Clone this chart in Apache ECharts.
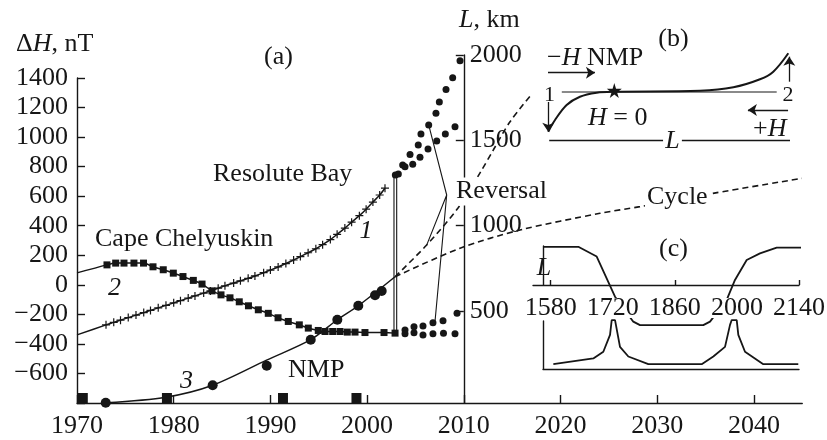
<!DOCTYPE html>
<html>
<head>
<meta charset="utf-8">
<script src="https://cdn.jsdelivr.net/npm/echarts@6.0.0/dist/echarts.min.js"></script>
<style>
html,body{margin:0;padding:0;background:#fff;}
#chart{width:827px;height:440px;}
</style>
</head>
<body>
<div id="chart"></div>
<script>
// ---------------- data ----------------
// main x axis (years)
const yearMin = 1970, yearMax = 2045, yearStep = 10;
// left axis: ΔH, nT
const dhMin = -800, dhMax = 1400, dhStep = 200;
// right axis: L, km
const lMin = -40, lMax = 2000;
const lTicks = [500, 1000, 1500, 2000];

// curve 1: Resolute Bay, ΔH (nT)
const resoluteStart = [1970, -339];
const resoluteCrosses = [
  [1973.0,-271],[1973.8,-254],[1974.5,-239],[1975.3,-222],[1976.1,-205],[1976.9,-188],
  [1977.6,-173],[1978.4,-156],[1979.2,-139],[1980.0,-122],[1980.7,-107],[1981.5,-90],
  [1982.2,-75],[1983.1,-56],[1983.8,-41],[1984.6,-23],[1985.3,-7],[1986.2,12],
  [1986.9,27],[1987.7,44],[1988.4,60],[1989.3,82],[1990.0,100],[1990.8,121],
  [1991.6,144],[1992.4,168],[1993.1,191],[1993.9,217],[1994.7,244],[1995.4,272],
  [1996.2,306],[1996.9,342],[1997.7,384],[1998.4,424],[1999.2,468],[1999.9,512],
  [2000.6,560],[2001.3,608],[2001.85,654]
];
// curve 2: Cape Chelyuskin, ΔH (nT)
const chelyuskinStart = [1970, 81];
const chelyuskinSquares = [
  [1973.1,135],[1974.0,147],[1974.86,147],[1975.89,147],[1976.88,147],[1977.86,122],
  [1978.92,102],[1979.96,79],[1980.96,56],[1982.03,30],[1982.93,5],[1983.96,-41],
  [1984.89,-68],[1985.82,-88],[1986.78,-115],[1987.73,-142],[1988.75,-169],[1989.78,-193],
  [1990.79,-223],[1991.85,-248],[1992.99,-271],[1993.92,-293],[1994.95,-309],[1995.65,-316],
  [1996.44,-316],[1997.2,-316],[1997.95,-320],[1998.75,-320],[1999.78,-323],[2001.75,-323],
  [2002.89,-327]
];
// data after 2003 (dots), ΔH (nT)
const upperDotsA = [
  [2002.92,743],[2003.68,811],[2004.44,883],[2005.29,946],[2005.57,1021],[2006.37,1082],
  [2007.12,1161],[2007.47,1237],[2008.16,1323],[2008.85,1402],[2009.61,1517]
];
const upperDotsB = [
  [2003.23,750],[2003.92,799],[2004.72,817],[2005.47,863],[2006.30,919],[2007.20,973],
  [2008.09,1021],[2009.09,1070]
];
const lowerDotsA = [[2003.92,-305],[2004.85,-284],[2005.78,-278],[2006.81,-257],[2007.85,-244],[2009.30,-193]];
const lowerDotsB = [[2003.92,-332],[2004.85,-325],[2005.78,-339],[2006.81,-332],[2007.90,-327],[2009.09,-332]];
// curve 3: NMP distance L (km)
const nmpCircles = [[1972.97,-39],[1984.03,64],[1989.62,178],[1994.17,331],[1996.92,448],[1999.09,530],[2000.82,592],[2001.51,617]];
const nmpFit = [[1972.97,-39],[1979.2,-6],[1984.03,64],[1989.6,211],[1994.17,331],[1996.92,448],[1999.09,530],[2002.89,700]];
const forecastSteep = [[2002.89,700],[2006.16,886],[2009.40,1103],[2011.68,1309],[2013.05,1443],[2014.78,1609],[2017.02,1770]];
const forecastCycle = [[2002.89,700],[2009.61,867],[2015.81,974],[2024.08,1072],[2028.22,1111],[2035.77,1189],[2044.97,1277]];
// black squares on the time axis
const axisSquareYears = [1970.6, 1979.3, 1991.3, 1998.9];
// reversal jump (double vertical line) and pointer lines, ΔH units
const jumpYears = [2002.78, 2003.06];
const jumpRange = [723, -328];
const reversalHub = [2008.23, 608];
const reversalTargets = [[2006.37,1082],[2006.16,269],[2007.02,-250]];

// inset (b): schematic, arbitrary units
const schemeCurve = [[0.1,-39.7],[2.9,-28],[7.7,-13],[13.2,-4.7],[20.1,-0.7],[27,0.3],[62.8,1.3],[76.6,4.7],[87.6,12.7],[93.1,20.3],[99.3,38.7]];
const schemeZero = [[5.7,0],[94.5,0]];
const schemeStar = [[27.4,1.5]];
const schemeArrows = [[[0,19.3],[19.4,19.3]],[[0.1,-10],[0.1,-39.7]],[[99.7,10.3],[99.7,35.3]],[[99.2,-18],[82.6,-18]]];
const schemeBracket = [[[0.5,-48],[47.6,-48]],[[55.2,-48],[100,-48]],[[0.5,-44],[0.5,-52]],[[100,-44],[100,-52]]];

// inset (c): cycle, years
const cycleMin = 1540, cycleMax = 2140;
const cycleTickYears = [1580, 1860, 2140];
const cycleLabelYears = [1580, 1720, 1860, 2000, 2140];
const cycleUpper = [[1563.2,0.98],[1642.2,0.98],[1683.7,0.73],[1725.0,-0.30],[1766.2,-0.94],[1781.4,-1.03],[1924.1,-1.03],[1939.3,-0.94],[1976.9,-0.38],[1995.6,0.13],[2022.0,0.64],[2052.0,0.81],[2089.7,0.96],[2148,0.96]];
const cycleLower = [[1585.8,0.10],[1676.0,0.22],[1698.6,0.36],[1713.7,0.71],[1717.5,1.02],[1725.0,1.02],[1736.2,0.46],[1755.0,0.26],[1800.1,0.10],[1920.5,0.10],[1946.7,0.26],[1973.1,0.46],[1984.4,0.92],[1988.2,1.02],[1999.5,1.02],[2003.1,0.71],[2018.2,0.36],[2059.5,0.10],[2138.4,0.10]];

// ---------------- styling ----------------
const INK = '#161616';
const FONT = '"Liberation Serif", "Times New Roman", serif';
const F = (s, it) => (it ? 'italic ' : '') + s + 'px ' + FONT;
const CROSS = 'path://M5,0L5,10M0,5L10,5';
const STAR = 'path://M50,0L61,35L98,35L68,57L79,91L50,70L21,91L32,57L2,35L39,35Z';
const axisLineStyle = {color: INK, width: 1.4};
const plainNum = function (v) { return String(v).replace('-', '\u2212'); };
const labelBase = {color: INK, fontFamily: FONT, fontSize: 26, formatter: plainNum};
const noEmph = {disabled: true};

function hiddenAxis(grid, min, max) {
  return {type: 'value', gridIndex: grid, min: min, max: max, show: false, splitLine: {show: false}};
}
function lineS(x, y, data, extra) {
  return Object.assign({
    type: 'line', xAxisIndex: x, yAxisIndex: y, data: data,
    symbol: 'none', lineStyle: {color: INK, width: 1.5, opacity: 1}, itemStyle: {color: INK, opacity: 1},
    emphasis: noEmph, silent: true, animation: false, clip: false, z: 3
  }, extra || {});
}
function dots(x, y, data, size, extra) {
  return Object.assign({
    type: 'scatter', xAxisIndex: x, yAxisIndex: y, data: data, symbol: 'circle', symbolSize: size,
    itemStyle: {color: INK, opacity: 1}, emphasis: noEmph, silent: true, animation: false, clip: false, z: 4
  }, extra || {});
}

const series = [];
// curve 1
series.push(lineS(0, 0, [{value: resoluteStart, symbol: 'none'}].concat(resoluteCrosses), {
  smooth: 0.3, symbol: CROSS, symbolSize: 8, showSymbol: true,
  itemStyle: {color: 'rgba(0,0,0,0)', borderColor: INK, borderWidth: 1.2, opacity: 1}
}));
// curve 2
series.push(lineS(0, 0, [{value: chelyuskinStart, symbol: 'none'}].concat(chelyuskinSquares), {
  smooth: 0.3, symbol: 'rect', symbolSize: 7, showSymbol: true, itemStyle: {color: INK, opacity: 1}
}));
// dots after 2003
series.push(dots(0, 0, upperDotsA, 7));
series.push(dots(0, 0, upperDotsB, 7));
series.push(dots(0, 0, lowerDotsA, 7));
series.push(dots(0, 0, lowerDotsB, 7));
// jump double line
jumpYears.forEach(function (yr) {
  series.push(lineS(0, 0, [[yr, jumpRange[0]], [yr, jumpRange[1]]], {lineStyle: {color: INK, width: 1.1}}));
});
// reversal pointers
const ptr = [];
reversalTargets.forEach(function (t, i) { if (i) ptr.push(reversalHub); ptr.push(t); });
series.push(lineS(0, 0, ptr, {lineStyle: {color: INK, width: 1.1}}));
// squares on axis
series.push(dots(0, 0, axisSquareYears.map(function (y) { return [y, dhMin]; }), 10,
  {symbol: 'rect', symbolOffset: [0, -5]}));
// curve 3 (L)
series.push(lineS(1, 1, nmpFit, {smooth: 0.3}));
series.push(dots(1, 1, nmpCircles, 10));
series.push(lineS(1, 1, forecastSteep, {smooth: 0.3, lineStyle: {color: INK, width: 1.6, type: [6, 4]}}));
series.push(lineS(1, 1, forecastCycle, {smooth: 0.3, lineStyle: {color: INK, width: 1.6, type: [6, 4]}}));

// inset (b)
series.push(lineS(2, 2, schemeCurve, {smooth: 0.35, lineStyle: {color: INK, width: 2}}));
const mlData = schemeArrows.map(function (a) {
  return [{coord: a[0], symbol: 'none'}, {coord: a[1], symbol: 'arrow'}];
}).concat(schemeBracket.map(function (a) {
  return [{coord: a[0], symbol: 'none'}, {coord: a[1], symbol: 'none'}];
}));
series.push(lineS(2, 2, schemeZero, {
  lineStyle: {color: INK, width: 1.2},
  markLine: {
    silent: true, animation: false, symbolSize: 9, label: {show: false}, emphasis: noEmph,
    lineStyle: {color: INK, width: 1.3, type: 'solid', opacity: 1}, itemStyle: {color: INK, opacity: 1}, data: mlData
  }
}));
series.push(dots(2, 2, schemeStar, 15, {symbol: STAR}));

// inset (c)
series.push(lineS(3, 3, cycleUpper, {lineStyle: {color: INK, width: 1.8}, z: 1}));
series.push(lineS(4, 4, cycleLower, {lineStyle: {color: INK, width: 1.8}, z: 1}));

// ---------------- texts ----------------
function txt(x, y, text, opts) {
  opts = opts || {};
  const style = {
    text: text, x: 0, y: 0, fill: INK, font: opts.font || F(26),
    align: opts.align || 'left', textAlign: opts.align || 'left',
    verticalAlign: 'middle', textVerticalAlign: 'middle'
  };
  if (opts.rich) style.rich = opts.rich;
  if (opts.bg) { style.backgroundColor = '#fff'; style.padding = [1, 2]; }
  return {type: 'text', x: x, y: y, z: 100, silent: true, style: style};
}
const rich26 = {n: {font: F(26)}, i: {font: F(26, true)}};
const graphics = [
  txt(16, 44, '{n|Δ}{i|H}{n|, nT}', {rich: rich26}),
  txt(264, 57, '(a)'),
  txt(459, 20, '{i|L}{n|, km}', {rich: rich26}),
  txt(213, 174, 'Resolute Bay'),
  txt(95, 239, 'Cape Chelyuskin'),
  txt(366, 231, '1', {font: F(26, true), align: 'center'}),
  txt(114.5, 288.5, '2', {font: F(26, true), align: 'center'}),
  txt(186.5, 381.5, '3', {font: F(26, true), align: 'center'}),
  txt(288, 370, 'NMP'),
  txt(454, 191.5, 'Reversal', {bg: true}),
  txt(645, 197, 'Cycle', {bg: true}),
  txt(673.5, 39, '(b)', {align: 'center'}),
  txt(547, 58.5, '{n|−}{i|H}{n| NMP}', {rich: rich26}),
  txt(549.5, 95, '1', {font: F(22), align: 'center'}),
  txt(788, 95, '2', {font: F(22), align: 'center'}),
  txt(588, 118.5, '{i|H}{n| = 0}', {rich: rich26}),
  txt(753, 129, '{n|+}{i|H}', {rich: rich26}),
  txt(672.5, 141.5, 'L', {font: F(26, true), align: 'center', bg: true}),
  txt(673.5, 249, '(c)', {align: 'center'}),
  txt(544, 268, 'L', {font: F(26, true), align: 'center'})
];

const gridBase = {containLabel: false, outerBoundsMode: 'none', show: false};
const option = {
  animation: false,
  backgroundColor: '#fff',
  textStyle: {fontFamily: FONT},
  grid: [
    Object.assign({left: 77, right: 24.75, top: 78, bottom: 37}, gridBase),
    Object.assign({left: 77, right: 24.75, top: 55, bottom: 37}, gridBase),
    Object.assign({left: 548, right: 37, top: 52, bottom: 298}, gridBase),
    Object.assign({left: 533, right: 28, top: 246, bottom: 155}, gridBase),
    Object.assign({left: 543, right: 28, top: 321, bottom: 71}, gridBase)
  ],
  xAxis: [
    {type: 'value', gridIndex: 0, min: yearMin, max: yearMax, interval: yearStep,
     axisLine: {show: true, onZero: false, lineStyle: axisLineStyle},
     axisTick: {show: true, inside: true, length: 8, lineStyle: axisLineStyle},
     axisLabel: Object.assign({}, labelBase, {margin: 10, showMinLabel: true, showMaxLabel: false}),
     splitLine: {show: false}},
    hiddenAxis(1, yearMin, yearMax),
    hiddenAxis(2, 0, 100),
    {type: 'value', gridIndex: 3, min: cycleMin, max: cycleMax, z: 10,
     axisLine: {show: true, onZero: false, lineStyle: axisLineStyle},
     axisTick: {show: true, inside: true, length: 5, lineStyle: axisLineStyle, customValues: cycleTickYears},
     axisLabel: Object.assign({}, labelBase, {margin: 13, customValues: cycleLabelYears, backgroundColor: '#fff',
       lineHeight: 20, padding: [0, 0]}),
     splitLine: {show: false}},
    {type: 'value', gridIndex: 4, min: 1562.5, max: cycleMax,
     axisLine: {show: true, onZero: false, lineStyle: axisLineStyle},
     axisTick: {show: false}, axisLabel: {show: false}, splitLine: {show: false}}
  ],
  yAxis: [
    {type: 'value', gridIndex: 0, min: dhMin, max: dhMax, interval: dhStep,
     axisLine: {show: true, onZero: false, lineStyle: axisLineStyle},
     axisTick: {show: true, inside: true, length: 8, lineStyle: axisLineStyle},
     axisLabel: Object.assign({}, labelBase, {margin: 9, showMinLabel: true, showMaxLabel: true,
       formatter: function (v) { return v === dhMin ? '' : plainNum(v); }}),
     splitLine: {show: false}},
    {type: 'value', gridIndex: 1, position: 'right', offset: -338.45, min: lMin, max: lMax,
     axisLine: {show: true, onZero: false, lineStyle: axisLineStyle},
     axisTick: {show: true, inside: true, length: 8, lineStyle: axisLineStyle, customValues: lTicks},
     axisLabel: Object.assign({}, labelBase, {margin: 6, customValues: lTicks}),
     splitLine: {show: false}},
    hiddenAxis(2, -50, 40),
    {type: 'value', gridIndex: 3, min: 0, max: 1, offset: -10,
     axisLine: {show: true, onZero: false, lineStyle: axisLineStyle},
     axisTick: {show: false}, axisLabel: {show: false}, splitLine: {show: false}},
    {type: 'value', gridIndex: 4, min: 0, max: 1,
     axisLine: {show: true, onZero: false, lineStyle: axisLineStyle},
     axisTick: {show: false}, axisLabel: {show: false}, splitLine: {show: false}}
  ],
  series: series,
  graphic: {elements: graphics}
};

const chart = echarts.init(document.getElementById('chart'), null, {renderer: 'canvas'});
chart.setOption(option);
</script>
</body>
</html>
